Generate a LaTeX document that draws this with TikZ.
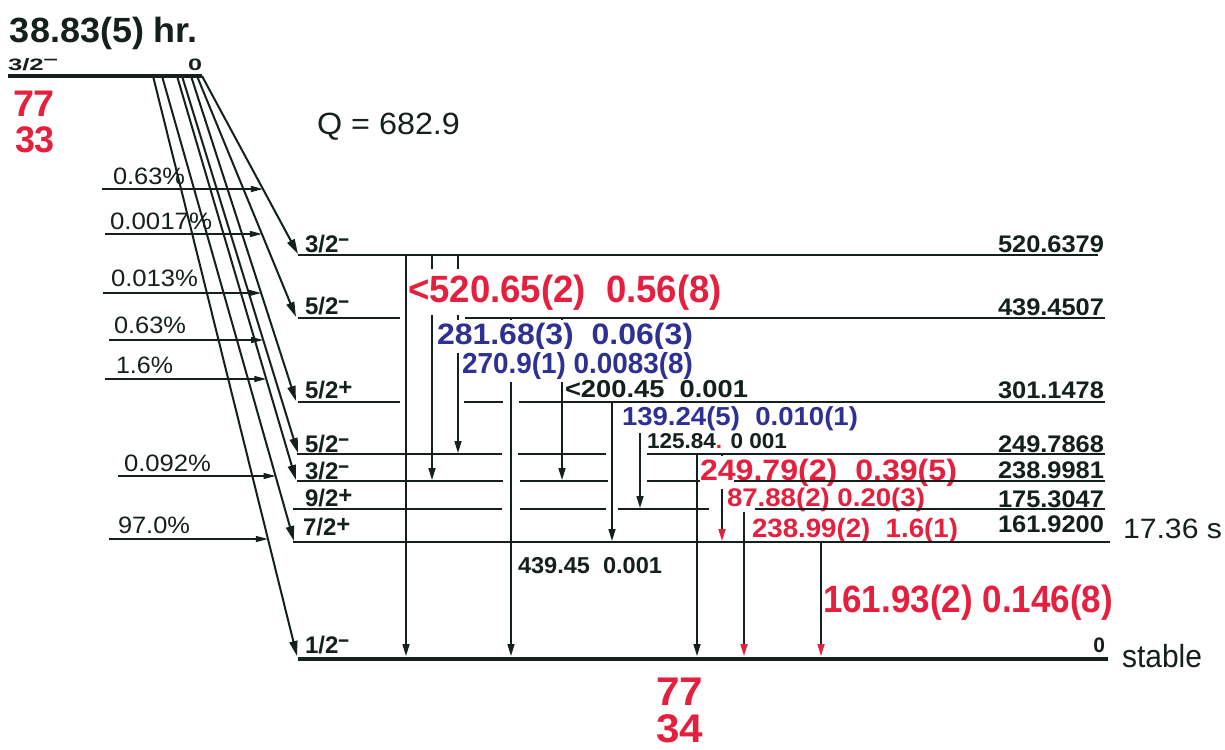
\documentclass[tikz,border=0pt]{standalone}
\usepackage{fontspec}
\setmainfont{Liberation Sans}
\usepackage{graphicx}
\usetikzlibrary{arrows.meta,calc}
\definecolor{nred}{HTML}{E5203F}
\definecolor{nblue}{HTML}{2E3192}
\definecolor{nblk}{HTML}{14201B}
\newcommand\LB[3]{\resizebox{#1pt}{\height}{\fontsize{#2pt}{#2pt}\selectfont #3}}
\newcommand\smin{\raisebox{0.25em}{\scalebox{0.8}[1]{--}}}
\newcommand\spl{\raisebox{0.12em}{+}}
\begin{document}
\begin{tikzpicture}[x=1pt,y=-1pt,line cap=butt,
  every node/.style={inner sep=0pt, outer sep=0pt},
  lab/.style={anchor=base west, text=nblk, font=\bfseries},
  labE/.style={anchor=base east, text=nblk, font=\bfseries},
  reg/.style={anchor=base west, text=nblk, font=\mdseries},
  wbox/.style={fill=white, inner ysep=3pt},
  lvl/.style={draw=nblk, line width=2pt},
  gnd/.style={draw=nblk, line width=4pt},
  beta/.style={draw=nblk, line width=2pt, -{Triangle[length=15pt,width=8pt]}},
  feed/.style={draw=nblk, line width=1.3pt, -{Triangle[length=12pt,width=6pt]}},
  gam/.style={draw=nblk, line width=1.6pt, -{Triangle[length=12pt,width=7pt]}},
  gamr/.style={draw=nblk, line width=1.6pt, -{Triangle[length=12pt,width=7pt,color=nred]}},
]
\useasboundingbox[fill=white] (0,0) rectangle (1225,749);

% ---------- gamma transitions ----------
\coordinate (g1t) at (406,255);  \coordinate (g1b) at (406,656);
\coordinate (g2t) at (432,255);  \coordinate (g2b) at (432,480);
\coordinate (g3t) at (458,255);  \coordinate (g3b) at (458,453);
\coordinate (g4t) at (511,318);  \coordinate (g4b) at (511,656);
\coordinate (g5t) at (562,318);  \coordinate (g5b) at (562,480);
\coordinate (g6t) at (612,402);  \coordinate (g6b) at (612,541);
\coordinate (g7t) at (640,402);  \coordinate (g7b) at (640,508);
\coordinate (g8t) at (697,454);  \coordinate (g8b) at (697,656);
\coordinate (g9t) at (722,454);  \coordinate (g9b) at (722,541);
\coordinate (g10t) at (744,481); \coordinate (g10b) at (744,656);
\coordinate (g11t) at (821,542); \coordinate (g11b) at (821,656);
\foreach \g in {1,...,8} \draw[gam] (g\g t) -- (g\g b);
\foreach \g in {9,10,11} \draw[gamr] (g\g t) -- (g\g b);

% ---------- gamma labels ----------
\node[lab,wbox,inner ysep=5pt,text=nred] (t1) at (408,302) {\LB{314}{38}{<520.65(2)~~0.56(8)}};
\node[lab,wbox,text=nblue] (t2) at (437,344) {\LB{256}{29.5}{281.68(3)~~0.06(3)}};
\node[lab,wbox,text=nblue] (t3) at (462,373) {\LB{231}{29}{270.9(1) 0.0083(8)}};
\node[lab] (t4) at (565,397) {\LB{183}{24.5}{<200.45~~0.001}};
\node[lab,wbox,text=nblue] (t5) at (622,425) {\LB{236}{26}{139.24(5)~~0.010(1)}};
\node[lab] (t6) at (647,448) {\LB{140}{21.5}{125.84{\color{nred}.} 0 001}};
\node[lab,wbox,text=nred] (t7) at (700,480) {\LB{257}{29.5}{249.79(2)~~0.39(5)}};
\node[lab,wbox,inner ysep=1pt,text=nred] (t8) at (727,506) {\LB{198}{25.5}{87.88(2) 0.20(3)}};
\node[lab,text=nred] (t9) at (752,537) {\LB{206}{26.5}{238.99(2)~~1.6(1)}};
\node[lab,text=nred] (t10) at (823,612) {\LB{290}{38}{161.93(2) 0.146(8)}};
\node[lab] (t11) at (518,573) {\LB{144}{23}{439.45~~0.001}};

% ---------- levels ----------
\foreach \y/\a/\b in {255/298/1098, 318/298/400, 318/465/1105, 402/298/400,
  402/464/503, 402/519/1105, 454/297/502, 454/518/606, 454/647/1105,
  481/297/503, 481/520/608, 481/647/700, 481/734/1105, 509/293/502,
  509/520/606, 509/618/709, 509/755/1105, 542/293/1110}
  \draw[lvl] (\a,\y) -- (\b,\y);
\coordinate (gs0) at (298,658.5); \coordinate (gs1) at (1108,658.5);
\draw[gnd] (gs0) -- (gs1);
\coordinate (par0) at (8,76); \coordinate (par1) at (202,76);
\draw[gnd] (par0) -- (par1);

% ---------- beta feeding ----------
\coordinate (b0s) at (153,76); \coordinate (b0e) at (297,656);
\coordinate (b1s) at (162,76); \coordinate (b1e) at (294,541);
\coordinate (b2s) at (177,76); \coordinate (b2e) at (296,480);
\coordinate (b3s) at (182,76); \coordinate (b3e) at (298,453);
\coordinate (b4s) at (191,76); \coordinate (b4e) at (296,401);
\coordinate (b5s) at (197,76); \coordinate (b5e) at (296,317);
\coordinate (b6s) at (202,76); \coordinate (b6e) at (298,254);
\foreach \b in {0,...,6} \draw[beta] (b\b s) -- (b\b e);

% feeding intensity arrows
\coordinate (f1s) at (102,189); \coordinate (f1e) at ($(b6s)!0.635!(b6e)$);
\coordinate (f2s) at (105,234); \coordinate (f2e) at ($(b5s)!0.656!(b5e)$);
\coordinate (f3s) at (103,293); \coordinate (f3e) at ($(b4s)!0.668!(b4e)$);
\coordinate (f4s) at (109,340); \coordinate (f4e) at ($(b3s)!0.700!(b3e)$);
\coordinate (f5s) at (105,379); \coordinate (f5e) at ($(b2s)!0.750!(b2e)$);
\coordinate (f6s) at (118,476); \coordinate (f6e) at ($(b1s)!0.860!(b1e)$);
\coordinate (f7s) at (109,539); \coordinate (f7e) at ($(b0s)!0.797!(b0e)$);
\foreach \f in {1,...,7} \draw[feed] (f\f s) -- (f\f s -| f\f e);

\node[reg] (p1) at (113,184) {\LB{72}{23.7}{0.63\%}};
\node[reg] (p2) at (110,229) {\LB{102}{23.7}{0.0017\%}};
\node[reg] (p3) at (111,286) {\LB{87}{23.7}{0.013\%}};
\node[reg] (p4) at (114,333) {\LB{72}{23.7}{0.63\%}};
\node[reg] (p5) at (116,373) {\LB{57}{23.7}{1.6\%}};
\node[reg] (p6) at (124,471) {\LB{87}{23.7}{0.092\%}};
\node[reg] (p7) at (118,533) {\LB{72}{23.7}{97.0\%}};

% ---------- spin labels ----------
\node[lab] (s1) at (305,252) {\fontsize{24pt}{24pt}\selectfont 3/2\smin};
\node[lab] (s2) at (305,314) {\fontsize{24pt}{24pt}\selectfont 5/2\smin};
\node[lab] (s3) at (305,398) {\fontsize{24pt}{24pt}\selectfont 5/2\spl};
\node[lab] (s4) at (305,452) {\fontsize{24pt}{24pt}\selectfont 5/2\smin};
\node[lab] (s5) at (305,479) {\fontsize{24pt}{24pt}\selectfont 3/2\smin};
\node[lab] (s6) at (305,506) {\fontsize{24pt}{24pt}\selectfont 9/2\spl};
\node[lab] (s7) at (303,535) {\fontsize{24pt}{24pt}\selectfont 7/2\spl};
\node[lab] (s8) at (305,653) {\fontsize{24pt}{24pt}\selectfont 1/2\smin};

% ---------- energy labels ----------
\node[labE] (e1) at (1104,252) {\LB{106}{24}{520.6379}};
\node[labE] (e2) at (1104,315) {\LB{106}{24}{439.4507}};
\node[labE] (e3) at (1104,398) {\LB{106}{24}{301.1478}};
\node[labE] (e4) at (1104,452) {\LB{106}{24}{249.7868}};
\node[labE] (e5) at (1104,478) {\LB{106}{24}{238.9981}};
\node[labE] (e6) at (1104,507) {\LB{106}{24}{175.3047}};
\node[labE] (e7) at (1104,532) {\LB{106}{24}{161.9200}};
\node[labE] (e8) at (1105,652) {\fontsize{21pt}{21pt}\selectfont 0};
\node[reg] (hl) at (1123,538) {\LB{99}{28}{17.36 s}};
\node[reg] (st) at (1122,667) {\LB{80}{32}{stable}};

% ---------- parent ----------
\node[lab] (title) at (10,43) {\LB{188}{35}{38.83(5) hr.}};
\node[lab] (ps) at (8,71) {\LB{50}{16.5}{3/2\raisebox{0.42em}{--}}};
\node[lab] (pe) at (188,71) {\LB{14}{16.5}{0}};
\node[lab,text=nred] (z1) at (13,117) {\LB{42}{37}{77}};
\node[lab,text=nred] (z2) at (15,152) {\LB{40}{37}{33}};
\node[reg] (q) at (317,135) {\LB{143}{30.7}{Q = 682.9}};
\node[lab,text=nred] (d1) at (656,705) {\LB{47}{40}{77}};
\node[lab,text=nred] (d2) at (656,742) {\LB{47}{40}{34}};
\end{tikzpicture}
\end{document}
